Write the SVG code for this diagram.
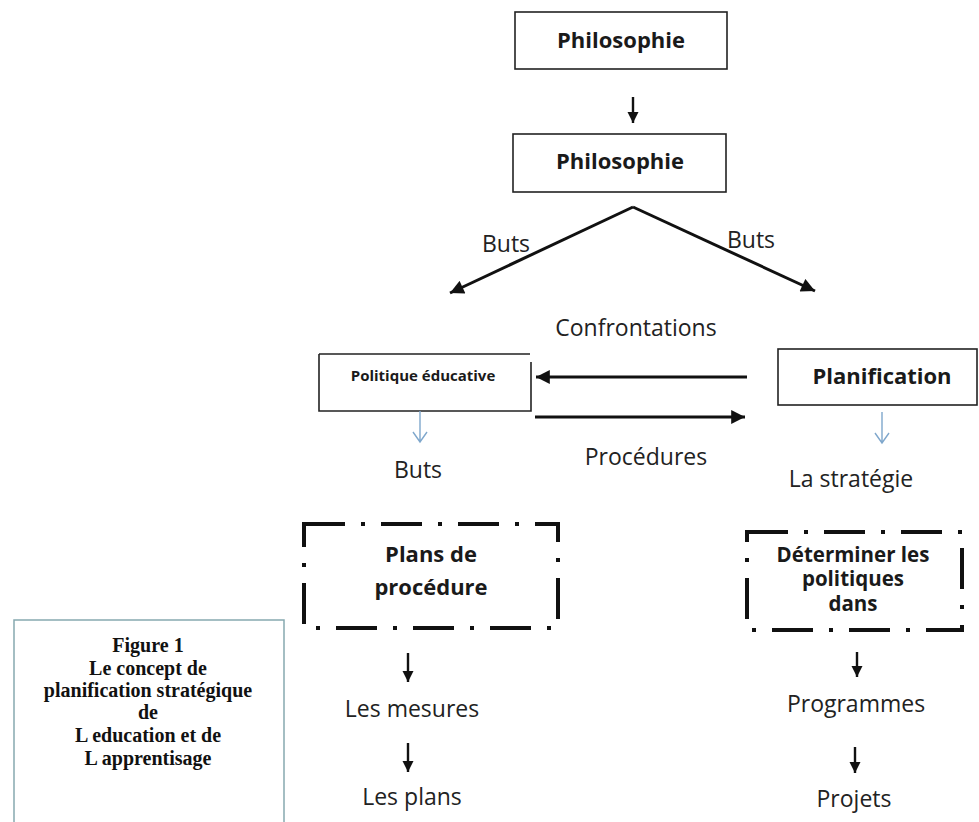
<svg xmlns="http://www.w3.org/2000/svg" width="979" height="822" viewBox="0 0 979 822">
<defs>
<style>
.box{fill:#fff;stroke:#222;stroke-width:1.6}
.dd{fill:none;stroke:#111;stroke-width:4;stroke-dasharray:41 16 4 16}
.b{font-family:"Open Sans","Noto Sans",sans-serif;font-weight:bold;fill:#1a1a1a;text-anchor:middle}
.r{font-family:"Open Sans","Noto Sans",sans-serif;fill:#222;text-anchor:middle;font-size:23px}
.s{font-family:"Liberation Serif","Times New Roman",serif;font-weight:bold;fill:#111;text-anchor:middle;font-size:20px}
.blk{stroke:#111;fill:none}
.blue{stroke:#7fa7cc;stroke-width:1.4;fill:none}
</style>
<marker id="ah" viewBox="0 0 10 10" refX="10" refY="5" markerWidth="5" markerHeight="4.6" markerUnits="strokeWidth" orient="auto">
<path d="M0,0 L10,5 L0,10 z" fill="#111"/>
</marker>
<marker id="ahs" viewBox="0 0 10 10" refX="10" refY="5" markerWidth="5" markerHeight="4.6" markerUnits="strokeWidth" orient="auto">
<path d="M0,0 L10,5 L0,10 z" fill="#111"/>
</marker>
</defs>
<rect width="979" height="822" fill="#fff"/>

<g id="philosophie1">
<rect class="box" x="515" y="12" width="212" height="57"/>
<text class="b" x="621" y="48" font-size="22">Philosophie</text>
</g>
<g id="philosophie2">
<rect class="box" x="513" y="134" width="213" height="58"/>
<text class="b" x="620" y="169" font-size="22">Philosophie</text>
</g>
<g id="politique">
<path class="box" d="M319,354 H530 M531,362 V411 H319 V354" fill="none"/>
<text class="b" x="423" y="381" font-size="15">Politique éducative</text>
</g>
<g id="planification">
<rect class="box" x="778" y="349" width="199" height="56"/>
<text class="b" x="882" y="384" font-size="22">Planification</text>
</g>
<g id="plans">
<rect class="dd" x="304" y="524" width="254" height="104"/>
<text class="b" x="431" y="562" font-size="22">Plans de</text>
<text class="b" x="431" y="595" font-size="22">procédure</text>
</g>
<g id="determiner">
<rect class="dd" x="747" y="532" width="215" height="98"/>
<text class="b" x="853" y="562" font-size="20.5">Déterminer les</text>
<text class="b" x="853" y="586" font-size="20.5">politiques</text>
<text class="b" x="853" y="611" font-size="20.5">dans</text>
</g>
<g id="figure">
<path d="M14,822 V620 H284 V822" fill="none" stroke="#86a9b0" stroke-width="1.5"/>
<text class="s" x="148" y="652">Figure 1</text>
<text class="s" x="148" y="675">Le concept de</text>
<text class="s" x="148" y="697">planification stratégique</text>
<text class="s" x="148" y="719">de</text>
<text class="s" x="148" y="742">L education et de</text>
<text class="s" x="148" y="765">L apprentisage</text>
</g>
<g id="labels">
<text class="r" x="506" y="252" font-size="22">Buts</text>
<text class="r" x="751" y="248" font-size="22">Buts</text>
<text class="r" x="636" y="336">Confrontations</text>
<text class="r" x="646" y="465">Procédures</text>
<text class="r" x="418" y="478" font-size="22">Buts</text>
<text class="r" x="851" y="487">La stratégie</text>
<text class="r" x="412" y="717">Les mesures</text>
<text class="r" x="412" y="805">Les plans</text>
<text class="r" x="856" y="712">Programmes</text>
<text class="r" x="854" y="807">Projets</text>
</g>
<g id="connectors">
<line class="blk" x1="633" y1="97" x2="633" y2="123" stroke-width="2.4" marker-end="url(#ahs)"/>
<line class="blk" x1="633" y1="207" x2="450" y2="293" stroke-width="3" marker-end="url(#ah)"/>
<line class="blk" x1="633" y1="207" x2="815" y2="291" stroke-width="3" marker-end="url(#ah)"/>
<line class="blk" x1="747" y1="377" x2="536" y2="377" stroke-width="3" marker-end="url(#ah)"/>
<line class="blk" x1="535" y1="417" x2="745" y2="417" stroke-width="3" marker-end="url(#ah)"/>
<path class="blue" d="M420,411 V442 M413,432 L420,442 L427,432"/>
<path class="blue" d="M882,412 V443 M875,433 L882,443 L889,433"/>
<line class="blk" x1="408" y1="653" x2="408" y2="682" stroke-width="2.4" marker-end="url(#ahs)"/>
<line class="blk" x1="408" y1="743" x2="408" y2="772" stroke-width="2.4" marker-end="url(#ahs)"/>
<line class="blk" x1="857" y1="652" x2="857" y2="677" stroke-width="2.4" marker-end="url(#ahs)"/>
<line class="blk" x1="855" y1="747" x2="855" y2="773" stroke-width="2.4" marker-end="url(#ahs)"/>
</g>
</svg>
